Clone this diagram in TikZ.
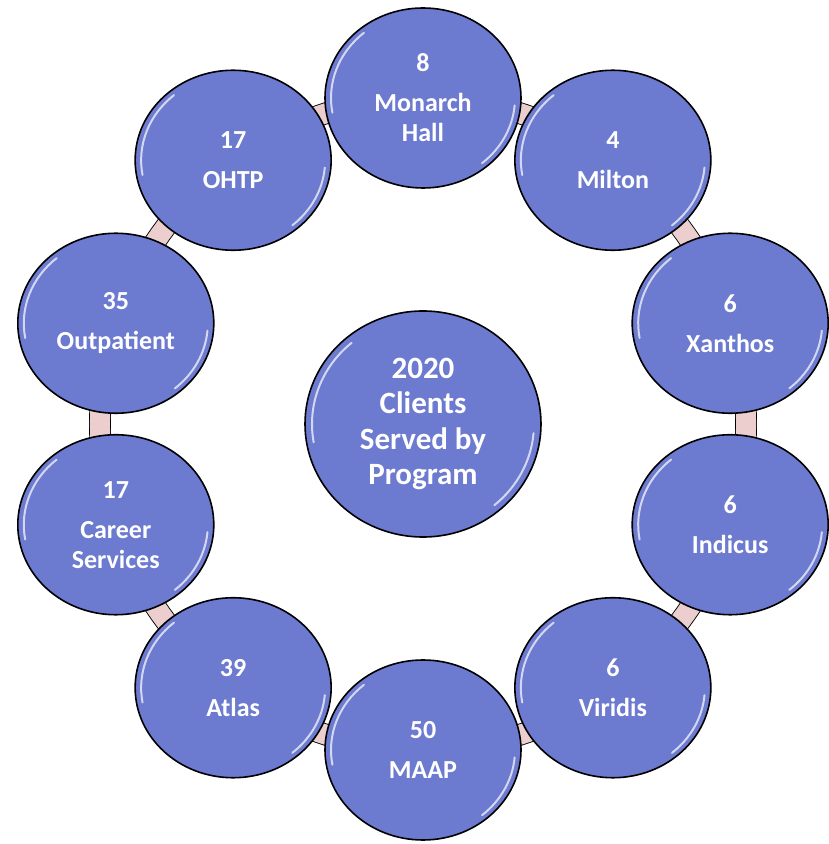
\documentclass[tikz,border=0pt]{standalone}
\usepackage{fontspec}
\setmainfont{Carlito}
\usetikzlibrary{shapes.geometric, backgrounds, positioning}

\definecolor{bubbleblue}{RGB}{108,122,208}
\definecolor{linkpink}{RGB}{236,206,206}

\tikzset{
  bubble/.style={ellipse, draw=black, line width=1.6pt, fill=bubbleblue, text=white,
    align=center, inner sep=0pt, minimum width=196pt, minimum height=180pt,
    font=\bfseries\fontsize{26}{30}\selectfont},
  hub/.style={bubble, minimum width=236pt, minimum height=226pt,
    font=\bfseries\fontsize{31}{35.5}\selectfont},
  link/.style={line width=0.9pt, draw=black, double=linkpink, double distance=20pt},
  gloss/.style={white, line width=2pt, line cap=round, opacity=0.7}
}

\begin{document}
\begin{tikzpicture}[x=1pt, y=1pt]
  \useasboundingbox (0,0) rectangle (828,844);

  % Centre
  \node[hub] (hub) at (423,420) {2020\\Clients\\Served by\\Program};

  % Programs round the ring
  \foreach \a/\nm/\txt in {90/monarch/{8\\[10pt]Monarch\\Hall}, 54/milton/{4\\[10pt]Milton},
      18/xanthos/{6\\[10pt]Xanthos}, -18/indicus/{6\\[10pt]Indicus}, -54/viridis/{6\\[10pt]Viridis},
      -90/maap/{50\\[10pt]MAAP}, -126/atlas/{39\\[10pt]Atlas}, -162/career/{17\\[10pt]Career\\Services},
      162/outpatient/{35\\[10pt]Outpatient}, 126/ohtp/{17\\[10pt]OHTP}} {
    \node[bubble] (\nm) at ([shift={(\a:323 and 326)}]hub.center) {\txt};
  }

  % Ring links (behind the bubbles)
  \begin{scope}[on background layer]
    \foreach \p/\q in {monarch/milton, milton/xanthos, xanthos/indicus, indicus/viridis,
        viridis/maap, maap/atlas, atlas/career, career/outpatient, outpatient/ohtp, ohtp/monarch}
      \draw[link] (\p.center) to[bend left=18, looseness=0.87] (\q.center);
  \end{scope}

  % Glossy highlights
  \foreach \nm in {monarch, milton, xanthos, indicus, viridis, maap, atlas, career, outpatient, ohtp} {
    \draw[gloss] (\nm.center) ++(190:92 and 85) arc[start angle=190, end angle=130, x radius=92, y radius=85];
    \draw[gloss] (\nm.center) ++(-5:92 and 85) arc[start angle=-5, end angle=-50, x radius=92, y radius=85];
  }
  \draw[gloss] (hub.center) ++(190:111 and 106) arc[start angle=190, end angle=130, x radius=111, y radius=106];
  \draw[gloss] (hub.center) ++(-5:111 and 106) arc[start angle=-5, end angle=-50, x radius=111, y radius=106];
\end{tikzpicture}
\end{document}
